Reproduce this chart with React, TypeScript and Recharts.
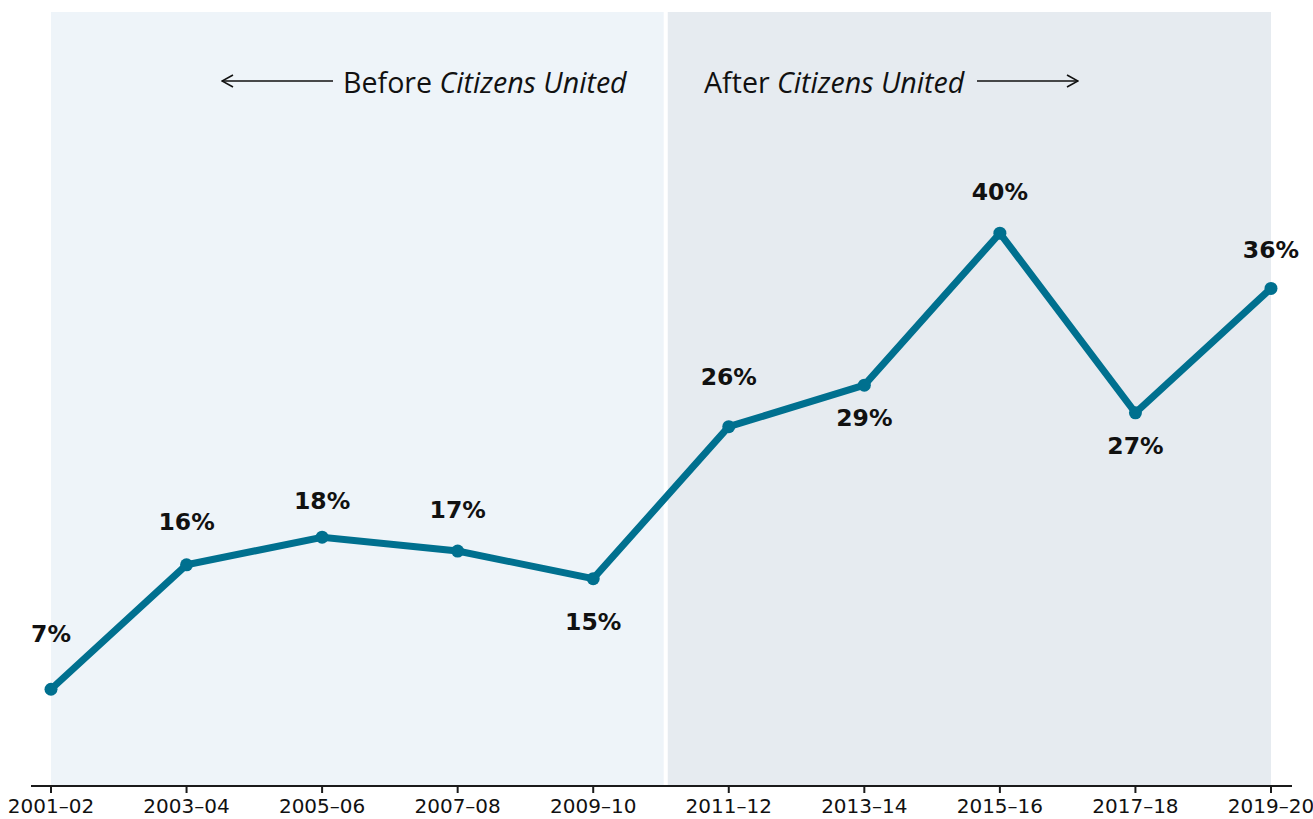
import React from "react";
import {
    LineChart,
    Line,
    XAxis,
    YAxis,
    ReferenceArea,
    LabelList,
} from "recharts";

const periods = [
    "2001–02", "2003–04", "2005–06", "2007–08", "2009–10",
    "2011–12", "2013–14", "2015–16", "2017–18", "2019–20",
];
const shares = [7, 16, 18, 17, 15, 26, 29, 40, 27, 36];
// vertical offset of each value label from its point
const labelOffsets = [-55, -43, -36, -41, 43, -50, 33, -41, 33, -38];

const LINE_COLOR = "#00708f";
const NUM_FONT = "'DejaVu Sans', sans-serif";
const TEXT_FONT = "'Open Sans', 'Noto Sans', sans-serif";

const data = periods.map((p, i) => ({ idx: i, period: p, share: shares[i] }));

function ValueLabel(props: any) {
    const { x, y, value, index } = props;
    return (
        <text
            x={x}
            y={y + labelOffsets[index]}
            textAnchor="middle"
            dominantBaseline="central"
            fontFamily={NUM_FONT}
            fontWeight={700}
            fontSize={23.5}
            fill="#111"
        >
            {value}%
        </text>
    );
}

export default function App() {
    return (
        <div style={{ position: "absolute", left: 0, top: 0, width: 1313, height: 819, background: "#fff" }}>
            <LineChart
                width={1313}
                height={819}
                data={data}
                margin={{ top: 12, right: 21, bottom: 0, left: 31 }}
            >
                <ReferenceArea x1={0} x2={4.52} y1={0} y2={56} fill="#eef4f9" fillOpacity={1} stroke="none" />
                <ReferenceArea x1={4.55} x2={9} y1={0} y2={56} fill="#e6ebf0" fillOpacity={1} stroke="none" />
                <XAxis
                    dataKey="idx"
                    type="number"
                    domain={[-0.1475, 9.155]}
                    ticks={periods.map((_, i) => i)}
                    tickFormatter={(v: number) => periods[v]}
                    allowDataOverflow
                    height={33}
                    axisLine={{ stroke: "#1a1a1a", strokeWidth: 2 }}
                    tickLine={{ stroke: "#1a1a1a", strokeWidth: 2 }}
                    tickSize={7}
                    tick={{ fontFamily: NUM_FONT, fontSize: 20, fill: "#111" }}
                    tickMargin={6}
                    interval={0}
                />
                <YAxis hide domain={[0, 56]} type="number" />
                <Line
                    type="linear"
                    dataKey="share"
                    stroke={LINE_COLOR}
                    strokeWidth={7}
                    dot={{ r: 6.5, fill: LINE_COLOR, stroke: "none" }}
                    activeDot={false}
                    isAnimationActive={false}
                >
                    <LabelList dataKey="share" content={<ValueLabel />} />
                </Line>
            </LineChart>
            <svg
                width={1313}
                height={819}
                style={{ position: "absolute", left: 0, top: 0, pointerEvents: "none" }}
            >
                <defs>
                    <marker id="arrow" viewBox="0 0 14 14" refX="13" refY="7" markerWidth="14" markerHeight="14" markerUnits="userSpaceOnUse" orient="auto-start-reverse">
                        <path d="M2,1 L13,7 L2,13" fill="none" stroke="#111" strokeWidth={1.6} />
                    </marker>
                </defs>
                <line x1={222} y1={81} x2={333} y2={81} stroke="#111" strokeWidth={1.6} markerStart="url(#arrow)" />
                <text x={343} y={81} dominantBaseline="central" fontFamily={TEXT_FONT} fontSize={28.6} fill="#111">
                    Before <tspan fontStyle="italic">Citizens United</tspan>
                </text>
                <text x={704} y={81} dominantBaseline="central" fontFamily={TEXT_FONT} fontSize={28.6} fill="#111">
                    After <tspan fontStyle="italic">Citizens United</tspan>
                </text>
                <line x1={977} y1={81} x2={1078} y2={81} stroke="#111" strokeWidth={1.6} markerEnd="url(#arrow)" />
            </svg>
        </div>
    );
}
